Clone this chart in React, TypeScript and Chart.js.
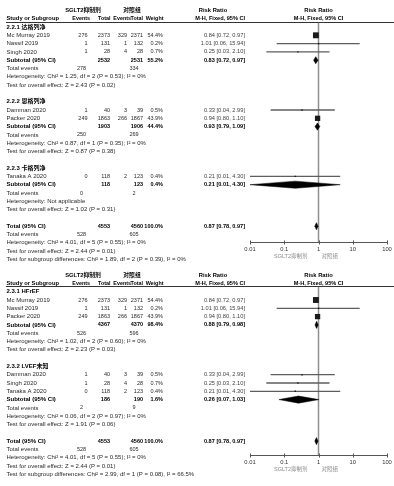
import React, { useEffect, useRef } from 'react';
import { Chart, registerables } from 'chart.js';

Chart.register(...registerables);

type Row = (string | number | null)[];

// ---- header / axis texts ----
const groupHeads = ['SGLT2抑制剂', '对照组'];
const rrHead = 'Risk Ratio';
const columnHeads = ['Study or Subgroup', 'Events', 'Total', 'Events', 'Total', 'Weight'];
const methodHead = 'M-H, Fixed, 95% CI';
const axisTicks = [0.01, 0.1, 1, 10, 100];
const axisTickLabels = ['0.01', '0.1', '1', '10', '100'];
const favourLabels = ['SGLT2抑制剂', '对照组'];

// ---- rows: kind, label, events1, total1, events2, total2, weight %, RR, low, high ----
const panel1Rows: Row[] = [
  ['g', '2.2.1 达格列净'],
  ['s', 'Mc Murray 2019', 276, 2373, 329, 2371, 54.4, 0.84, 0.72, 0.97],
  ['s', 'Nassif 2019', 1, 131, 1, 132, 0.2, 1.01, 0.06, 15.94],
  ['s', 'Singh 2020', 1, 28, 4, 28, 0.7, 0.25, 0.03, 2.1],
  ['sub', 'Subtotal (95% CI)', null, 2532, null, 2531, 55.2, 0.83, 0.72, 0.97],
  ['ev', 'Total events', 278, null, 334],
  ['n', 'Heterogeneity: Chi² = 1.25, df = 2 (P = 0.53); I² = 0%'],
  ['n', 'Test for overall effect: Z = 2.43 (P = 0.02)'],
  ['_', ''],
  ['g', '2.2.2 恩格列净'],
  ['s', 'Damman 2020', 1, 40, 3, 39, 0.5, 0.33, 0.04, 2.99],
  ['s', 'Packer 2020', 249, 1863, 266, 1867, 43.9, 0.94, 0.8, 1.1],
  ['sub', 'Subtotal (95% CI)', null, 1903, null, 1906, 44.4, 0.93, 0.79, 1.09],
  ['ev', 'Total events', 250, null, 269],
  ['n', 'Heterogeneity: Chi² = 0.87, df = 1 (P = 0.35); I² = 0%'],
  ['n', 'Test for overall effect: Z = 0.87 (P = 0.38)'],
  ['_', ''],
  ['g', '2.2.3 卡格列净'],
  ['s', 'Tanaka A 2020', 0, 118, 2, 123, 0.4, 0.21, 0.01, 4.3],
  ['sub', 'Subtotal (95% CI)', null, 118, null, 123, 0.4, 0.21, 0.01, 4.3],
  ['ev', 'Total events', 0, null, 2],
  ['n', 'Heterogeneity: Not applicable'],
  ['n', 'Test for overall effect: Z = 1.02 (P = 0.31)'],
  ['_', ''],
  ['tot', 'Total (95% CI)', null, 4553, null, 4560, 100.0, 0.87, 0.78, 0.97],
  ['ev', 'Total events', 528, null, 605],
  ['n', 'Heterogeneity: Chi² = 4.01, df = 5 (P = 0.55); I² = 0%'],
  ['n', 'Test for overall effect: Z = 2.44 (P = 0.01)'],
  ['n', 'Test for subgroup differences: Chi² = 1.89, df = 2 (P = 0.39), I² = 0%'],
];

const panel2Rows: Row[] = [
  ['g', '2.3.1 HFrEF'],
  ['s', 'Mc Murray 2019', 276, 2373, 329, 2371, 54.4, 0.84, 0.72, 0.97],
  ['s', 'Nassif 2019', 1, 131, 1, 132, 0.2, 1.01, 0.06, 15.94],
  ['s', 'Packer 2020', 249, 1863, 266, 1867, 43.9, 0.94, 0.8, 1.1],
  ['sub', 'Subtotal (95% CI)', null, 4367, null, 4370, 98.4, 0.88, 0.79, 0.98],
  ['ev', 'Total events', 526, null, 596],
  ['n', 'Heterogeneity: Chi² = 1.02, df = 2 (P = 0.60); I² = 0%'],
  ['n', 'Test for overall effect: Z = 2.23 (P = 0.03)'],
  ['_', ''],
  ['g', '2.3.2 LVEF未知'],
  ['s', 'Damman 2020', 1, 40, 3, 39, 0.5, 0.33, 0.04, 2.99],
  ['s', 'Singh 2020', 1, 28, 4, 28, 0.7, 0.25, 0.03, 2.1],
  ['s', 'Tanaka A 2020', 0, 118, 2, 123, 0.4, 0.21, 0.01, 4.3],
  ['sub', 'Subtotal (95% CI)', null, 186, null, 190, 1.6, 0.26, 0.07, 1.03],
  ['ev', 'Total events', 2, null, 9],
  ['n', 'Heterogeneity: Chi² = 0.06, df = 2 (P = 0.97); I² = 0%'],
  ['n', 'Test for overall effect: Z = 1.91 (P = 0.06)'],
  ['_', ''],
  ['tot', 'Total (95% CI)', null, 4553, null, 4560, 100.0, 0.87, 0.78, 0.97],
  ['ev', 'Total events', 528, null, 605],
  ['n', 'Heterogeneity: Chi² = 4.01, df = 5 (P = 0.55); I² = 0%'],
  ['n', 'Test for overall effect: Z = 2.44 (P = 0.01)'],
  ['n', 'Test for subgroup differences: Chi² = 2.99, df = 1 (P = 0.08), I² = 66.5%'],
];

// ---- layout (pixels) ----
const FAMILY = '"Liberation Sans", Arial, "Noto Sans CJK SC", sans-serif';
const CJK = '"Liberation Sans", "Noto Sans CJK SC", sans-serif';
const COL = { name: 6.5, e1: 87.5, n1: 110, e2: 127, n2: 143, w: 163, rr: 245, ev1: 81.5, ev2: 134 };
const NUM = 5.5; // number column font size
const layout1 = { height: 266, lineY: 22, firstRowY: 27, pitch: 8.3, axisY: 242 };
const layout2 = { height: 220, lineY: 20, firstRowY: 25.7, pitch: 8.3, axisY: 189 };

function txt(ctx: CanvasRenderingContext2D, s: string, x: number, y: number, align: CanvasTextAlign, bold: boolean, color = '#2a2a2a', size = 6, fam = FAMILY) {
  ctx.font = `${bold ? 'bold ' : ''}${size}px ${fam}`;
  ctx.fillStyle = bold ? '#000' : color;
  ctx.textAlign = align;
  ctx.textBaseline = 'middle';
  ctx.fillText(s, x, y);
}

const fmtRR = (r: Row) => `${(r[7] as number).toFixed(2)} [${(r[8] as number).toFixed(2)}, ${(r[9] as number).toFixed(2)}]`;

function makeTablePlugin(rows: Row[]) {
  return {
    id: 'forestTable',
    afterDraw(chart: any) {
      const { ctx, chartArea, scales } = chart;
      const xs = scales.x;
      const ys = scales.y;
      const x1 = xs.getPixelForValue(1);
      ctx.save();
      // header rows
      const h1 = ys.getPixelForValue(-2);
      const h2 = ys.getPixelForValue(-1);
      txt(ctx, groupHeads[0], 83, h1, 'center', true, '#000', 5.8, CJK);
      txt(ctx, groupHeads[1], 132, h1, 'center', true, '#000', 5.8, CJK);
      txt(ctx, rrHead, 213, h1, 'center', true, '#000', 5.8);
      txt(ctx, rrHead, x1, h1, 'center', true, '#000', 5.8);
      txt(ctx, columnHeads[0], COL.name, h2, 'left', true, '#000', 5.8);
      txt(ctx, columnHeads[1], 90, h2, 'right', true, '#000', 5.4);
      txt(ctx, columnHeads[2], 110.5, h2, 'right', true, '#000', 5.4);
      txt(ctx, columnHeads[3], 131, h2, 'right', true, '#000', 5.4);
      txt(ctx, columnHeads[4], 143, h2, 'right', true, '#000', 5.4);
      txt(ctx, columnHeads[5], 163.5, h2, 'right', true, '#000', 5.4);
      txt(ctx, methodHead, COL.rr, h2, 'right', true, '#000', 5.6);
      txt(ctx, methodHead, x1, h2, 'center', true, '#000', 5.6);
      // header line
      ctx.strokeStyle = '#333';
      ctx.lineWidth = 1;
      ctx.beginPath();
      ctx.moveTo(6, Math.round(chartArea.top) + 0.5);
      ctx.lineTo(394, Math.round(chartArea.top) + 0.5);
      ctx.stroke();
      // rows
      rows.forEach((r, i) => {
        const y = ys.getPixelForValue(i);
        const k = r[0];
        const label = r[1] as string;
        if (k === 'g') txt(ctx, label, COL.name, y, 'left', true, '#000', 6, CJK);
        else if (k === 'n') txt(ctx, label, COL.name, y, 'left', false);
        else if (k === 'ev') {
          txt(ctx, label, COL.name, y, 'left', false);
          txt(ctx, String(r[2]), COL.ev1, y, 'center', false, '#2a2a2a', NUM);
          txt(ctx, String(r[4]), COL.ev2, y, 'center', false, '#2a2a2a', NUM);
        } else if (k === 's') {
          txt(ctx, label, COL.name, y, 'left', false);
          txt(ctx, String(r[2]), COL.e1, y, 'right', false, '#2a2a2a', NUM);
          txt(ctx, String(r[3]), COL.n1, y, 'right', false, '#2a2a2a', NUM);
          txt(ctx, String(r[4]), COL.e2, y, 'right', false, '#2a2a2a', NUM);
          txt(ctx, String(r[5]), COL.n2, y, 'right', false, '#2a2a2a', NUM);
          txt(ctx, `${(r[6] as number).toFixed(1)}%`, COL.w, y, 'right', false, '#2a2a2a', NUM);
          txt(ctx, fmtRR(r), COL.rr, y, 'right', false, '#444', 5.7);
        } else if (k === 'sub' || k === 'tot') {
          txt(ctx, label, COL.name, y, 'left', true);
          txt(ctx, String(r[3]), COL.n1, y, 'right', true, '#000', NUM);
          txt(ctx, String(r[5]), COL.n2, y, 'right', true, '#000', NUM);
          txt(ctx, `${(r[6] as number).toFixed(1)}%`, COL.w, y, 'right', true, '#000', NUM);
          txt(ctx, fmtRR(r), COL.rr, y, 'right', true, '#000', 5.6);
        }
      });
      // axis
      const ay = Math.round(chartArea.bottom) + 0.5;
      ctx.strokeStyle = '#555';
      ctx.lineWidth = 1;
      ctx.beginPath();
      ctx.moveTo(xs.getPixelForValue(axisTicks[0]), ay);
      ctx.lineTo(xs.getPixelForValue(axisTicks[axisTicks.length - 1]), ay);
      axisTicks.forEach((v) => {
        const px = Math.round(xs.getPixelForValue(v)) + 0.5;
        ctx.moveTo(px, ay - 2);
        ctx.lineTo(px, ay + 2);
      });
      ctx.stroke();
      axisTicks.forEach((v, j) => {
        txt(ctx, axisTickLabels[j], xs.getPixelForValue(v), ay + 6.5, 'center', false, '#333', 5.8);
      });
      txt(ctx, favourLabels[0], x1 - 11, ay + 13.5, 'right', false, '#8a8a8a', 5.5, CJK);
      txt(ctx, favourLabels[1], x1 + 3, ay + 13.5, 'left', false, '#8a8a8a', 5.5, CJK);
      ctx.restore();
    },
  };
}

function buildChart(canvas: HTMLCanvasElement, rows: Row[], L: typeof layout1) {
  const yMin = (L.lineY - L.firstRowY) / L.pitch;
  const yMax = (L.axisY - L.firstRowY) / L.pitch;
  const studies = rows.map((r, i) => ({ r, i })).filter((o) => o.r[0] === 's');
  const pooled = rows.map((r, i) => ({ r, i })).filter((o) => o.r[0] === 'sub' || o.r[0] === 'tot');
  const dh = 0.43;
  const datasets: any[] = [];
  // study squares (size from weight)
  datasets.push({
    data: studies.map((o) => ({ x: o.r[7], y: o.i })),
    pointStyle: 'rect',
    pointRadius: studies.map((o) => Math.max(1.4, 0.8 * Math.sqrt(o.r[6] as number)) / Math.SQRT2),
    backgroundColor: '#1a1a1a',
    borderWidth: 0,
    order: 0,
  });
  // pooled diamonds
  pooled.forEach((o) => {
    const [lo, est, hi] = [o.r[8], o.r[7], o.r[9]] as number[];
    datasets.push({
      showLine: true,
      data: [
        { x: lo, y: o.i },
        { x: est, y: o.i - dh },
        { x: hi, y: o.i },
        { x: est, y: o.i + dh },
        { x: lo, y: o.i },
      ],
      fill: 'shape',
      backgroundColor: '#000',
      borderColor: '#000',
      borderWidth: 0.5,
      pointRadius: 0,
      tension: 0,
      order: 1,
    });
  });
  // confidence intervals
  studies.forEach((o) => {
    datasets.push({
      showLine: true,
      data: [
        { x: o.r[8], y: o.i },
        { x: o.r[9], y: o.i },
      ],
      borderColor: '#5e5e5e',
      borderWidth: 1.3,
      pointRadius: 0,
      order: 2,
    });
  });
  // line of no effect
  datasets.push({
    showLine: true,
    data: [
      { x: 1, y: yMin },
      { x: 1, y: yMax },
    ],
    borderColor: '#8f8f8f',
    borderWidth: 1.5,
    pointRadius: 0,
    order: 3,
  });

  return new Chart(canvas, {
    type: 'scatter',
    data: { datasets },
    options: {
      responsive: false,
      animation: false,
      events: [],
      layout: { padding: { left: 250, right: 7, top: L.lineY, bottom: L.height - L.axisY } },
      plugins: { legend: { display: false }, tooltip: { enabled: false } },
      scales: {
        x: { type: 'logarithmic', min: axisTicks[0], max: axisTicks[axisTicks.length - 1], display: false },
        y: { type: 'linear', min: yMin, max: yMax, reverse: true, display: false },
      },
    },
    plugins: [makeTablePlugin(rows)],
  } as any);
}

export default function App() {
  const ref1 = useRef<HTMLCanvasElement>(null);
  const ref2 = useRef<HTMLCanvasElement>(null);
  useEffect(() => {
    const c1 = buildChart(ref1.current!, panel1Rows, layout1);
    const c2 = buildChart(ref2.current!, panel2Rows, layout2);
    return () => {
      c1.destroy();
      c2.destroy();
    };
  }, []);
  return (
    <div style={{ position: 'absolute', left: 0, top: 0, width: 394, height: 486, background: '#fff' }}>
      <canvas ref={ref1} width={394} height={layout1.height} style={{ position: 'absolute', left: 0, top: 0 }} />
      <canvas ref={ref2} width={394} height={layout2.height} style={{ position: 'absolute', left: 0, top: layout1.height }} />
    </div>
  );
}
